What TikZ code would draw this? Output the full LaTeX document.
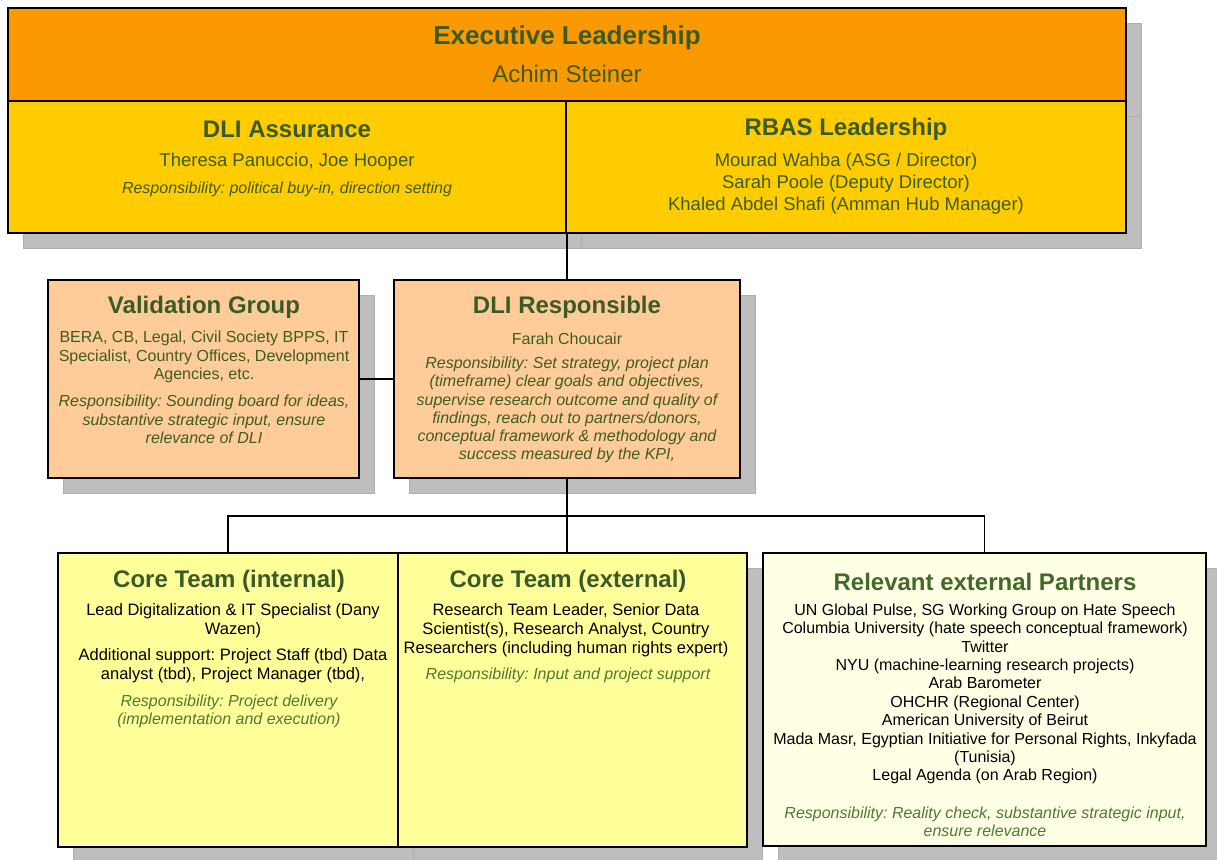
\documentclass[tikz,border=0pt]{standalone}
\usepackage{fontspec}
\setmainfont{Liberation Sans}
\usetikzlibrary{calc}
\definecolor{execorange}{HTML}{FA9900}
\definecolor{leadyellow}{HTML}{FFCC00}
\definecolor{peach}{HTML}{FFCC99}
\definecolor{paleyellow}{HTML}{FFFF99}
\definecolor{cream}{HTML}{FFFFE6}
\definecolor{shadowgray}{HTML}{BEBEBE}
\definecolor{seamgray}{HTML}{AEAEAE}
\definecolor{titlegreen}{HTML}{3A5A27}
\definecolor{bodygreen}{HTML}{3E5C22}
\definecolor{respgreen}{HTML}{4E7A33}
\definecolor{partnergreen}{HTML}{40692A}
\frenchspacing
\begin{document}
\frenchspacing
\begin{tikzpicture}[x=1pt,y=-1pt,
  box/.style={draw=black, line width=1.6pt, anchor=north west, inner sep=0pt, outer sep=0pt},
  drop/.style={fill=shadowgray, draw=seamgray, line width=0.8pt},
  wire/.style={draw=black, line width=1.4pt},
  txt/.style={inner sep=0pt, align=center, yshift=-1.5pt},
  exectitle/.style={txt, font=\fontsize{26}{30}\selectfont\bfseries, text=titlegreen},
  ttl/.style={txt, font=\fontsize{24}{28}\selectfont\bfseries, text=titlegreen},
  bigname/.style={txt, font=\fontsize{24}{28}\selectfont, text=bodygreen},
  names/.style={txt, font=\fontsize{18.5}{22}\selectfont, text=bodygreen},
  gbody/.style={txt, font=\fontsize{16}{18.7}\selectfont, text=bodygreen},
  gresp/.style={txt, font=\fontsize{16}{18.7}\selectfont\itshape, text=bodygreen},
  kbody/.style={txt, font=\fontsize{16.5}{19}\selectfont, text=black},
  kresp/.style={txt, font=\fontsize{16}{18.3}\selectfont\itshape, text=respgreen}
]
\useasboundingbox (0,0) rectangle (1217,859);
\clip (0,0) rectangle (1217,859);

% box frames, placed first so shadows and connectors can refer to them
\path
  node[box, minimum width=1118pt, minimum height=93pt, draw=none] (exec) at (8,8) {}
  node[box, minimum width=558pt, minimum height=132pt, draw=none] (assur) at (8,101) {}
  node[box, minimum width=560pt, minimum height=132pt, draw=none] (rbas) at (566,101) {}
  node[box, minimum width=311pt, minimum height=198pt, draw=none] (valid) at (48,280) {}
  node[box, minimum width=346pt, minimum height=198pt, draw=none] (resp) at (394,280) {}
  node[box, minimum width=340pt, minimum height=294pt, draw=none] (coreint) at (58,553) {}
  node[box, minimum width=349pt, minimum height=294pt, draw=none] (coreext) at (398,553) {}
  node[box, minimum width=443pt, minimum height=293pt, draw=none] (partners) at (763,553) {};

% drop shadows
\foreach \b in {exec,assur,rbas,valid,resp,coreint,coreext,partners}{
  \path[drop] ([shift={(15,15)}]\b.north west) rectangle ([shift={(15,15)}]\b.south east);
}

% connectors
\draw[wire] (resp.north) -- (resp.north |- assur.south);
\draw[wire] (valid.east) -- (resp.west);
\draw[wire] (resp.south) -- ++(0,38) coordinate (bus);
\draw[wire] (coreint.north) |- (bus) -| (partners.north);
\draw[wire] (bus) -- (bus |- coreext.north);

% filled boxes
\path[box, fill=execorange] (exec.north west) rectangle (exec.south east);
\path[box, fill=leadyellow] (assur.north west) rectangle (assur.south east);
\path[box, fill=leadyellow] (rbas.north west) rectangle (rbas.south east);
\path[box, fill=peach] (valid.north west) rectangle (valid.south east);
\path[box, fill=peach] (resp.north west) rectangle (resp.south east);
\path[box, fill=paleyellow] (coreint.north west) rectangle (coreint.south east);
\path[box, fill=paleyellow] (coreext.north west) rectangle (coreext.south east);
\path[box, fill=cream] (partners.north west) rectangle (partners.south east);

% Executive Leadership
\node[exectitle] (execT) at (567,36) {Executive Leadership};
\node[bigname] (execN) at (567,72) {Achim Steiner};

% DLI Assurance
\node[ttl] (assurT) at (287,128) {DLI Assurance};
\node[names] (assurN) at (287,160) {Theresa Panuccio, Joe Hooper};
\node[gresp] (assurR) at (287,188) {Responsibility: political buy-in, direction setting};

% RBAS Leadership
\node[ttl] (rbasT) at (846,128) {RBAS Leadership};
\node[names] (rbasN) at (846,182) {Mourad Wahba (ASG / Director)\\Sarah Poole (Deputy Director)\\Khaled Abdel Shafi (Amman Hub Manager)};

% Validation Group
\node[ttl] (validT) at (204,306) {Validation Group};
\node[gbody] (validB) at (204,355.5) {BERA, CB, Legal, Civil Society BPPS, IT\\Specialist, Country Offices, Development\\Agencies, etc.};
\node[gresp] (validR) at (204,418) {Responsibility: Sounding board for ideas,\\substantive strategic input, ensure\\relevance of DLI};

% DLI Responsible
\node[ttl] (respT) at (567,306) {DLI Responsible};
\node[gbody] (respN) at (567,337) {Farah Choucair};
\node[gresp, font=\fontsize{16}{18.2}\selectfont\itshape] (respR) at (567,408.5) {Responsibility: Set strategy, project plan\\(timeframe) clear goals and objectives,\\supervise research outcome and quality of\\findings, reach out to partners/donors,\\conceptual framework \& methodology and\\success measured by the KPI,};

% Core Team (internal)
\node[ttl] (ciT) at (229,580) {Core Team (internal)};
\node[kbody] (ciB1) at (233,619) {Lead Digitalization \& IT Specialist (Dany\\Wazen)};
\node[kbody] (ciB2) at (233,664) {Additional support: Project Staff (tbd) Data\\analyst (tbd), Project Manager (tbd),};
\node[kresp] (ciR) at (229,710) {Responsibility: Project delivery\\(implementation and execution)};

% Core Team (external)
\node[ttl] (ceT) at (568,580) {Core Team (external)};
\node[kbody] (ceB) at (566,629) {Research Team Leader, Senior Data\\Scientist(s), Research Analyst, Country\\Researchers (including human rights expert)};
\node[kresp] (ceR) at (568,674) {Responsibility: Input and project support};

% Relevant external Partners
\node[ttl, text=partnergreen] (ptT) at (985,580) {Relevant external Partners};
\node[txt, font=\fontsize{16}{18.35}\selectfont, text=black] (ptB) at (985,692.5) {UN Global Pulse, SG Working Group on Hate Speech\\Columbia University (hate speech conceptual framework)\\Twitter\\NYU (machine-learning research projects)\\Arab Barometer\\OHCHR (Regional Center)\\American University of Beirut\\Mada Masr, Egyptian Initiative for Personal Rights, Inkyfada\\(Tunisia)\\Legal Agenda (on Arab Region)};
\node[kresp] (ptR) at (985,820) {Responsibility: Reality check, substantive strategic input,\\ensure relevance};
\end{tikzpicture}
\end{document}
